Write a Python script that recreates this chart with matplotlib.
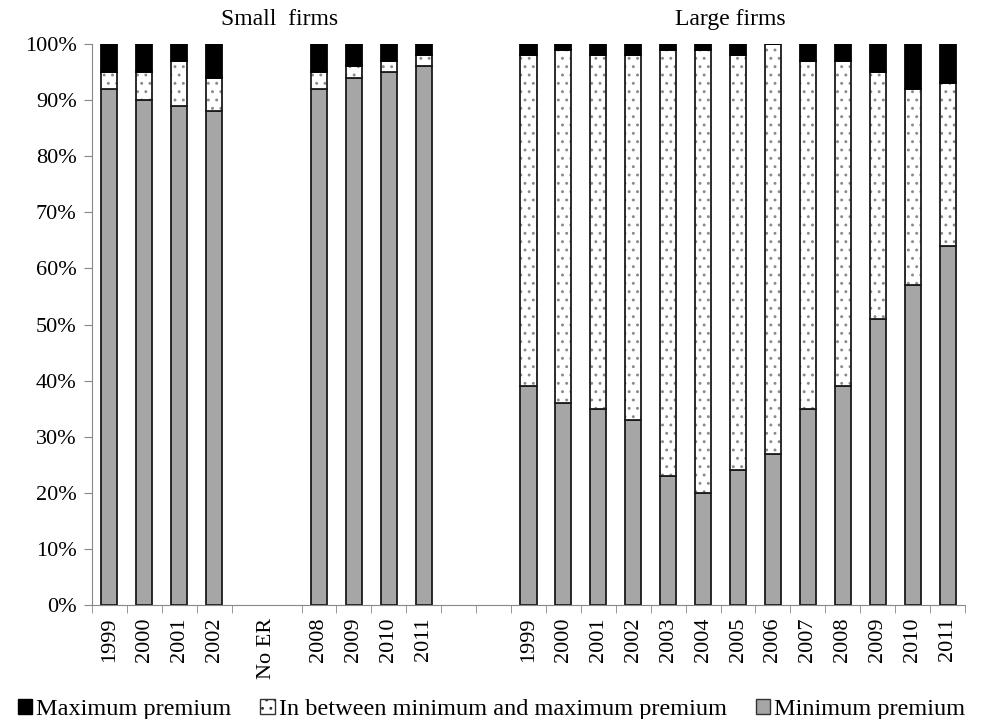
import matplotlib.pyplot as plt
import numpy as np
from matplotlib.patches import Patch

plt.rcParams["font.family"] = ["Liberation Serif", "DejaVu Serif"]
plt.rcParams["hatch.linewidth"] = 0.9

years_small = ["1999", "2000", "2001", "2002", "", "", "2008", "2009", "2010", "2011", "", ""]
years_large = ["1999", "2000", "2001", "2002", "2003", "2004", "2005", "2006",
               "2007", "2008", "2009", "2010", "2011"]
labels = years_small + years_large

nan = np.nan
# shares in percent, small firms block then large firms block
min_premium = [92, 90, 89, 88, nan, nan, 92, 94, 95, 96, nan, nan,
               39, 36, 35, 33, 23, 20, 24, 27, 35, 39, 51, 57, 64]
between = [3, 5, 8, 6, nan, nan, 3, 2, 2, 2, nan, nan,
           59, 63, 63, 65, 76, 79, 74, 73, 62, 58, 44, 35, 29]
max_premium = [5, 5, 3, 6, nan, nan, 5, 4, 3, 2, nan, nan,
               2, 1, 2, 2, 1, 1, 2, 0, 3, 3, 5, 8, 7]

x = np.arange(len(labels))
mn = np.array(min_premium, dtype=float)
bt = np.array(between, dtype=float)
mx = np.array(max_premium, dtype=float)
ok = ~np.isnan(mn)

fig = plt.figure(figsize=(9.83, 7.19), dpi=100)
ax = fig.add_axes([92 / 983, 114 / 719, 873 / 983, 561 / 719])

w = 0.46
ax.bar(x[ok], mn[ok], w, color="#a6a6a6", edgecolor="#1a1a1a", linewidth=1.3)
# dotted segment: grey dots first, then a dark outline on top
ax.bar(x[ok], bt[ok], w, bottom=mn[ok], color="white", edgecolor="#8a8a8a",
       linewidth=0, hatch="..")
ax.bar(x[ok], bt[ok], w, bottom=mn[ok], fill=False, edgecolor="#1a1a1a", linewidth=1.3)
ax.bar(x[ok], mx[ok], w, bottom=mn[ok] + bt[ok], color="black", edgecolor="black",
       linewidth=1.3)

ax.set_xlim(-0.5, len(labels) - 0.5)
ax.set_ylim(0, 100)
ax.set_yticks(np.arange(0, 101, 10))
ax.set_yticklabels([f"{v}%" for v in range(0, 101, 10)], fontsize=16)

# category labels at centres, tick marks at category boundaries
ax.set_xticks(list(x) + [4.5])
ax.set_xticklabels(labels + ["No ER"], rotation=90, fontsize=16)
ax.tick_params(axis="x", length=0, pad=9)
ax.set_xticks(np.arange(-0.5, len(labels), 1), minor=True)
ax.tick_params(axis="x", which="minor", length=6, color="#888888")
ax.tick_params(axis="y", length=6, color="#888888", pad=5)

for s in ["top", "right"]:
    ax.spines[s].set_visible(False)
for s in ["left", "bottom"]:
    ax.spines[s].set_color("#888888")

ax.text(4.88, 102.5, "Small  firms", ha="center", va="bottom", fontsize=17)
ax.text(17.77, 102.5, "Large firms", ha="center", va="bottom", fontsize=17)

handles = [
    Patch(facecolor="black", edgecolor="black", label="Maximum premium"),
    Patch(facecolor="white", edgecolor="#333333", hatch="..",
          label="In between minimum and maximum premium"),
    Patch(facecolor="#a6a6a6", edgecolor="#333333", label="Minimum premium"),
]
fig.legend(handles=handles, loc="lower center", bbox_to_anchor=(0.5, -0.032), ncol=3,
           frameon=False, fontsize=17.5, handlelength=0.6, handleheight=0.6,
           handletextpad=0.15, columnspacing=1.2)

fig.savefig("out.png", dpi=100)
